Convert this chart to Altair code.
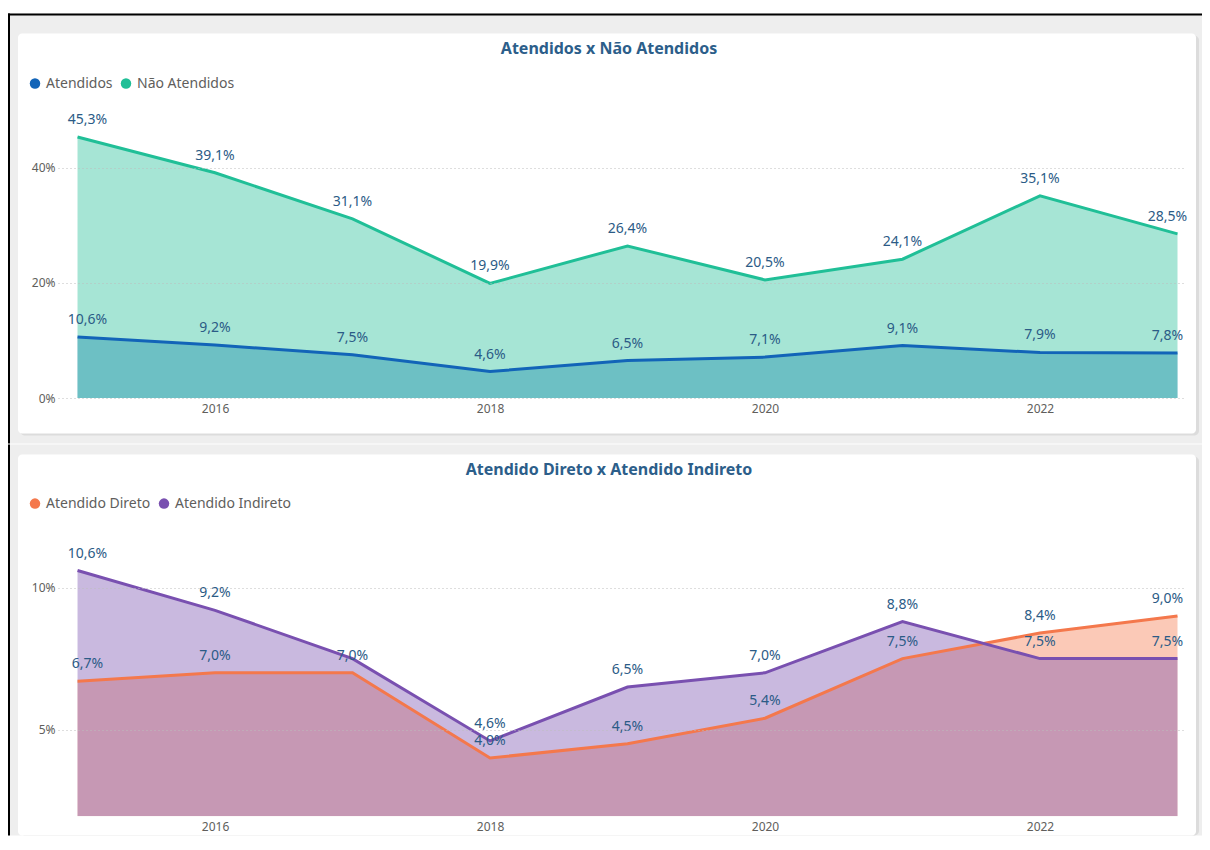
import altair as alt
import pandas as pd

# ---------------- data ----------------
years = [2015, 2016, 2017, 2018, 2019, 2020, 2021, 2022, 2023]
atendidos = [10.6, 9.2, 7.5, 4.6, 6.5, 7.1, 9.1, 7.9, 7.8]
nao_atendidos = [45.3, 39.1, 31.1, 19.9, 26.4, 20.5, 24.1, 35.1, 28.5]
atendido_direto = [6.7, 7.0, 7.0, 4.0, 4.5, 5.4, 7.5, 8.4, 9.0]
atendido_indireto = [10.6, 9.2, 7.5, 4.6, 6.5, 7.0, 8.8, 7.5, 7.5]

top_series = ["Atendidos", "Não Atendidos"]
bottom_series = ["Atendido Direto", "Atendido Indireto"]
top_title = "Atendidos x Não Atendidos"
bottom_title = "Atendido Direto x Atendido Indireto"

top_ticks = [0, 20, 40]
bottom_ticks = [5, 10]
x_ticks = [2016, 2018, 2020, 2022]

# data label hidden in the original (collided with another label)
hidden_labels = [("Atendido Indireto", 2017)]

# ---------------- styles ----------------
top_colors = ["#1264B8", "#20BF97"]
bottom_colors = ["#F4784C", "#7950B0"]
LABEL_COLOR = "#2B5B86"
TEXT_GREY = "#605E5C"
TITLE_COLOR = "#2C5E8A"
FONT = "Noto Sans"
BACK = "#EEEEEE"

PLOT_W = 1127
X_DOMAIN = [2014.858, 2023.0545]
RIGHT = 1144   # plot-relative right edge of the whole figure (page x 1202)
one = pd.DataFrame({"k": [0]})


def make_df(names, series):
    rows = []
    for n, vals in zip(names, series):
        for y, v in zip(years, vals):
            rows.append({"ano": y, "serie": n, "valor": v,
                         "rotulo": f"{v:.1f}%".replace(".", ","),
                         "mostrar": (n, y) not in hidden_labels})
    return pd.DataFrame(rows)


def deco_rect(x1, x2, y1, y2, **kw):
    return alt.Chart(one).mark_rect(**kw).encode(
        x=alt.value(x1), x2=alt.value(x2), y=alt.value(y1), y2=alt.value(y2))


def panel(df, names, colors, title, y_domain, y_ticks, plot_h, plot_top,
          band_top, band_bottom, card_top, card_bottom, title_offset,
          legend_y, first_panel):
    r = lambda p: p - plot_top  # page y -> plot-relative y
    x_enc = alt.X("ano:Q", scale=alt.Scale(domain=X_DOMAIN, nice=False, zero=False),
                  axis=alt.Axis(values=x_ticks, format="d", title=None, grid=False,
                                domain=False, ticks=False, labelPadding=5,
                                labelFontSize=12, labelColor=TEXT_GREY,
                                labelFont=FONT, zindex=1))
    y_enc = alt.Y("valor:Q", stack=None,
                  scale=alt.Scale(domain=y_domain, nice=False, zero=False),
                  axis=alt.Axis(values=y_ticks, labelExpr="datum.value + '%'",
                                title=None, grid=True, gridDash=[1, 3],
                                gridColor="#BDBDBD", domain=False, ticks=False,
                                labelPadding=3, labelFontSize=12,
                                labelColor=TEXT_GREY, labelFont=FONT, zindex=1))
    c_enc = alt.Color("serie:N", scale=alt.Scale(domain=names, range=colors),
                      legend=alt.Legend(orient="none", legendX=-30, legendY=legend_y,
                                        direction="horizontal", title=None,
                                        symbolType="circle", symbolSize=110,
                                        symbolOpacity=1, symbolStrokeWidth=0,
                                        labelFontSize=14, labelColor=TEXT_GREY,
                                        labelFont=FONT, columnPadding=6,
                                        padding=0, labelOffset=4))
    layers = []
    # background band / frame (rects only, so bounds stay exact)
    if first_panel:
        layers.append(deco_rect(-50, RIGHT, r(8), r(band_top), fill="white"))
    layers.append(deco_rect(-50, RIGHT, r(band_top), r(band_bottom), fill=BACK))
    if first_panel:
        layers.append(deco_rect(-50, RIGHT, r(band_top), r(band_top + 2), fill="black"))
    layers.append(deco_rect(-50, -48, r(band_top), r(band_bottom), fill="black"))
    # card shadow + card
    sb = min(card_bottom + 2, band_bottom)
    layers.append(deco_rect(-38, 1141, r(card_top + 2), r(sb), fill="#D4D4D4",
                            opacity=0.7, cornerRadius=5))
    layers.append(deco_rect(-40, 1138, r(card_top), r(card_bottom), fill="white",
                            cornerRadius=4))

    base = alt.Chart(df)
    for n in names:
        layers.append(base.mark_area(opacity=0.4, clip=True)
                      .encode(x=x_enc, y=y_enc, color=c_enc)
                      .transform_filter(alt.datum.serie == n))
    for n in names:
        layers.append(base.mark_line(strokeWidth=3, clip=True)
                      .encode(x=x_enc, y=y_enc, color=c_enc)
                      .transform_filter(alt.datum.serie == n))
    tkw = dict(dy=-17, fontSize=14, color=LABEL_COLOR, font=FONT)
    layers.append(base.mark_text(**tkw)
                  .encode(x=x_enc, y=y_enc, text="rotulo:N")
                  .transform_filter(f"datum.mostrar && datum.ano > {years[0]} && datum.ano < {years[-1]}"))
    layers.append(base.mark_text(dx=10, **tkw)
                  .encode(x=x_enc, y=y_enc, text="rotulo:N")
                  .transform_filter(f"datum.mostrar && datum.ano == {years[0]}"))
    layers.append(base.mark_text(dx=-10, **tkw)
                  .encode(x=x_enc, y=y_enc, text="rotulo:N")
                  .transform_filter(f"datum.mostrar && datum.ano == {years[-1]}"))

    return alt.layer(*layers).properties(
        width=PLOT_W, height=plot_h,
        title=alt.TitleParams(text=title, anchor="middle", frame="group",
                              offset=title_offset, dx=-12.5, baseline="middle",
                              fontSize=16, font=FONT, fontWeight="bold",
                              color=TITLE_COLOR))


df_top = make_df(top_series, [atendidos, nao_atendidos])
df_bot = make_df(bottom_series, [atendido_direto, atendido_indireto])

# panel 1: plot area page y 109.5 .. 397.5
p1 = panel(df_top, top_series, top_colors, top_title, [0, 50], top_ticks,
           288, 109.5, 13, 443, 33, 433, title_offset=-56, legend_y=-33.5,
           first_panel=True)
# panel 2: plot area page y 543.4 .. 814.6
p2 = panel(df_bot, bottom_series, bottom_colors, bottom_title, [1.95, 11.5],
           bottom_ticks, 271.2, 543.4, 443, 834, 453, 834, title_offset=-41,
           legend_y=-48.4, first_panel=False)

chart = alt.vconcat(p1, p2, spacing=0).resolve_scale(color="independent").properties(
    padding=0, background="white").configure_view(stroke=None)

chart.save("out.html", embed_options={"renderer": "svg", "actions": False})
